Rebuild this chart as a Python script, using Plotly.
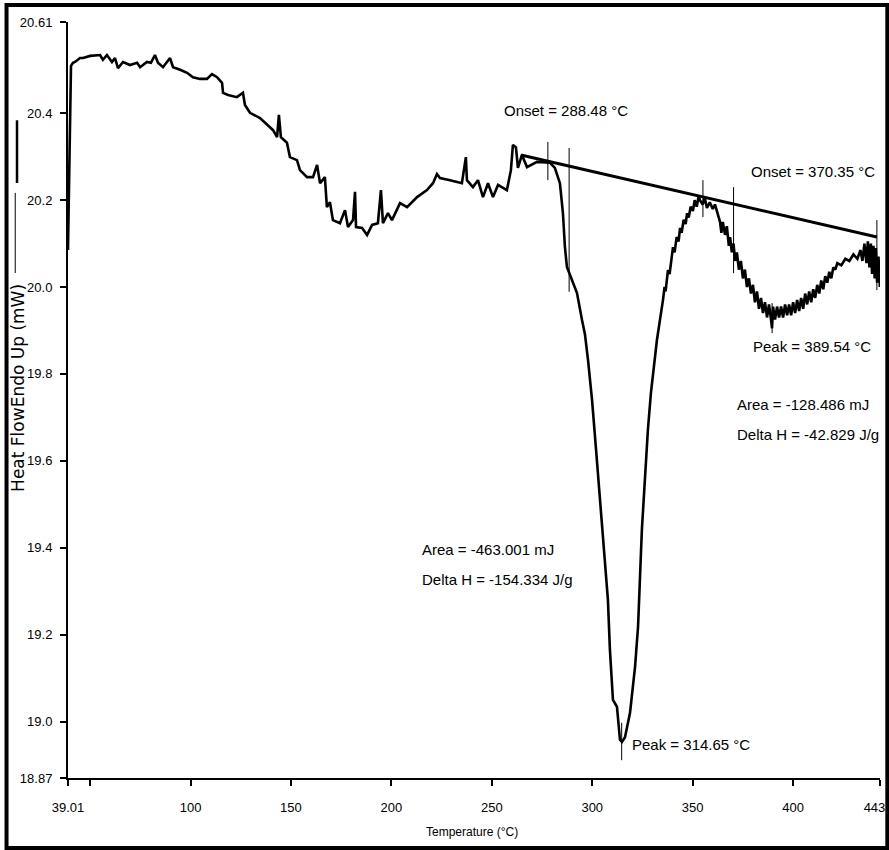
import plotly.graph_objects as go

# ---- DSC curve (temperature in °C, heat flow in mW) ----
temperature = [
    39.0, 39.5, 40.0, 40.5, 41.5, 42.5, 45.0, 46.5, 50.0, 55.0, 56.4, 58.4, 60.9, 62.4, 63.9,
    66.4, 69.9, 73.4, 74.9, 78.3, 80.3, 82.3, 83.8, 86.3, 89.8, 91.3, 94.8, 98.3, 101.2, 104.7,
    108.2, 110.7, 113.2, 115.7, 116.2, 118.7, 123.1, 126.1, 127.1, 129.6, 134.6, 138.1, 141.1,
    143.1, 144.0, 145.0, 148.0, 149.5, 153.0, 154.5, 158.0, 161.0, 163.0, 164.5, 166.9, 167.9,
    169.4, 170.9, 172.9, 174.4, 176.9, 178.4, 180.9, 181.9, 182.4, 185.4, 187.9, 190.4, 193.3,
    194.8, 195.8, 198.3, 200.3, 204.3, 207.8, 212.8, 217.7, 220.7, 222.7, 224.2, 229.2, 235.1,
    237.1, 237.6, 240.6, 243.1, 245.6, 248.1, 250.6, 253.1, 257.5, 259.5, 260.5, 262.0, 263.0,
    265.0, 267.5, 272.5, 279.0, 281.4, 283.9, 285.4, 286.4, 287.4, 289.9, 292.4, 294.9, 296.4,
    297.9, 299.9, 301.9, 303.8, 305.8, 307.8, 308.8, 310.3, 312.3, 313.8, 314.8, 316.3, 318.8,
    321.3, 322.8, 323.8, 324.7, 326.2, 327.7, 329.2, 332.2, 335.2, 336.0, 336.5, 337.7, 338.5,
    340.2, 341.0, 342.0, 343.0, 343.7, 344.5, 345.5, 346.5, 347.2, 348.0, 349.0, 350.1, 351.0,
    352.0, 353.0, 353.6, 355.0, 356.0, 357.1, 358.5, 360.0, 361.1, 362.5, 363.6, 364.3, 365.0,
    366.1, 367.0, 368.0, 368.6, 369.5, 370.3, 371.2, 372.0, 373.0, 374.0, 375.0, 376.0, 377.0,
    378.0, 379.0, 380.0, 381.0, 382.0, 383.0, 384.0, 385.0, 386.0, 387.0, 388.0, 389.0, 389.5,
    390.0, 391.0, 392.0, 393.0, 394.0, 395.0, 396.0, 397.0, 398.0, 399.0, 400.0, 401.0, 402.0,
    403.0, 404.0, 405.0, 406.0, 407.0, 408.0, 409.0, 410.0, 411.0, 412.0, 413.0, 414.0, 415.0,
    416.0, 417.0, 418.0, 419.0, 420.0, 421.0, 422.0, 424.0, 426.0, 428.0, 430.0, 432.0, 433.5,
    434.5, 435.5, 436.5, 437.2, 438.0, 438.7, 439.3, 440.0, 440.6, 441.2, 441.8, 442.5, 443.2,
]
heat_flow = [
    20.085, 20.200, 20.361, 20.509, 20.516, 20.518, 20.527, 20.527, 20.532, 20.534, 20.523, 20.534, 20.518, 20.527, 20.504,
    20.518, 20.511, 20.516, 20.506, 20.518, 20.516, 20.534, 20.516, 20.506, 20.527, 20.506, 20.500, 20.493, 20.483, 20.479,
    20.479, 20.490, 20.483, 20.470, 20.447, 20.442, 20.437, 20.447, 20.419, 20.401, 20.389, 20.373, 20.361,
    20.345, 20.396, 20.345, 20.332, 20.299, 20.292, 20.269, 20.253, 20.253, 20.281, 20.239, 20.253, 20.184,
    20.195, 20.154, 20.150, 20.147, 20.177, 20.138, 20.154, 20.219, 20.138, 20.136, 20.120, 20.143, 20.147,
    20.223, 20.147, 20.170, 20.154, 20.193, 20.184, 20.207, 20.223, 20.239, 20.260, 20.251, 20.246, 20.239,
    20.299, 20.246, 20.230, 20.246, 20.207, 20.239, 20.207, 20.235, 20.223, 20.269, 20.327, 20.322, 20.274,
    20.304, 20.276, 20.288, 20.286, 20.274, 20.239, 20.170, 20.092, 20.046, 20.016, 19.986, 19.924, 19.890,
    19.832, 19.740, 19.625, 19.510, 19.395, 19.280, 19.165, 19.050, 19.034, 18.958, 18.953, 18.964, 19.020,
    19.126, 19.218, 19.326, 19.441, 19.556, 19.671, 19.756, 19.878, 19.970, 20.000, 19.990, 20.039, 20.030,
    20.092, 20.080, 20.115, 20.105, 20.136, 20.125, 20.155, 20.145, 20.170, 20.160, 20.185, 20.175, 20.200,
    20.185, 20.210, 20.200, 20.190, 20.205, 20.182, 20.195, 20.180, 20.190, 20.165, 20.150, 20.125, 20.150,
    20.120, 20.140, 20.095, 20.115, 20.080, 20.100, 20.060, 20.080, 20.040, 20.060, 20.020, 20.040, 20.000,
    20.020, 19.985, 20.005, 19.965, 19.990, 19.950, 19.975, 19.940, 19.965, 19.930, 19.960, 19.925, 19.905,
    19.955, 19.925, 19.955, 19.930, 19.955, 19.930, 19.960, 19.935, 19.960, 19.935, 19.965, 19.940, 19.970,
    19.945, 19.975, 19.950, 19.985, 19.960, 19.990, 19.965, 19.995, 19.975, 20.005, 19.985, 20.015, 19.995,
    20.025, 20.010, 20.035, 20.020, 20.045, 20.040, 20.055, 20.050, 20.065, 20.060, 20.075, 20.065, 20.085,
    20.060, 20.100, 20.055, 20.105, 20.045, 20.100, 20.030, 20.095, 20.020, 20.090, 20.010, 20.070, 20.000,
]

# ---- integration baseline ----
baseline_temp = [264.5, 441.7]
baseline_flow = [20.304, 20.115]

# ---- vertical marker lines (temperature, low, high) ----
marker_temp = [277.9, 288.48, 355.1, 370.35, 441.7, 314.65, 389.54]
marker_low = [20.246, 19.989, 20.161, 20.032, 19.993, 18.911, 19.894]
marker_high = [20.334, 20.320, 20.246, 20.230, 20.154, 18.997, 19.963]

# ---- axis ticks ----
x_tickvals = [39.01, 50, 100, 150, 200, 250, 300, 350, 400, 443.2]
x_ticktext = ["39.01", "", "100", "150", "200", "250", "300", "350", "400", "443.1"]
y_tickvals = [18.87, 19.0, 19.2, 19.4, 19.6, 19.8, 20.0, 20.2, 20.4, 20.61]
y_ticktext = ["18.87", "19.0", "19.2", "19.4", "19.6", "19.8", "20.0", "20.2", "20.4", "20.61"]

# ---- text labels (text, temperature, heat flow, anchor) ----
labels = [
    ("Onset = 288.48 °C", 286.9, 20.407, "center"),
    ("Onset = 370.35 °C", 409.9, 20.267, "center"),
    ("Peak = 389.54 °C", 409.4, 19.864, "center"),
    ("Area = -128.486 mJ", 371.0, 19.729, "left"),
    ("Delta H = -42.829 J/g", 371.0, 19.660, "left"),
    ("Area = -463.001 mJ", 214.2, 19.397, "left"),
    ("Delta H = -154.334 J/g", 214.2, 19.328, "left"),
    ("Peak = 314.65 °C", 318.8, 18.946, "left"),
]

FONT = "Liberation Sans, Arial, sans-serif"

fig = go.Figure()
fig.add_trace(go.Scatter(x=temperature, y=heat_flow, mode="lines",
                         line=dict(color="black", width=2.6), hoverinfo="skip"))
fig.add_trace(go.Scatter(x=baseline_temp, y=baseline_flow, mode="lines",
                         line=dict(color="black", width=3), hoverinfo="skip"))
mx, my = [], []
for t, lo, hi in zip(marker_temp, marker_low, marker_high):
    mx += [t, t, None]
    my += [lo, hi, None]
fig.add_trace(go.Scatter(x=mx, y=my, mode="lines",
                         line=dict(color="black", width=1), hoverinfo="skip"))

for text, t, hf, anchor in labels:
    fig.add_annotation(x=t, y=hf, text=text, showarrow=False, xanchor=anchor,
                       yanchor="middle", font=dict(family=FONT, size=15, color="black"))

# axis titles
fig.add_annotation(xref="paper", yref="paper", x=0.4975, y=-0.0714, text="Temperature (°C)",
                   showarrow=False, xanchor="center", yanchor="middle",
                   font=dict(family=FONT, size=12, color="black"))
fig.add_annotation(xref="paper", yref="paper", x=-0.0616, y=0.516, text="Heat FlowEndo Up (mW)",
                   showarrow=False, textangle=-90, xanchor="center", yanchor="middle",
                   font=dict(family="DejaVu Sans", size=17, color="black"))

# legend-like line marks beside the y title
fig.add_shape(type="line", xref="paper", yref="paper", x0=-0.0628, x1=-0.0628, y0=0.787, y1=0.870,
              line=dict(color="black", width=2.5))
fig.add_shape(type="line", xref="paper", yref="paper", x0=-0.0650, x1=-0.0650, y0=0.668, y1=0.774,
              line=dict(color="black", width=1))
# outer frame
fig.add_shape(type="rect", xref="paper", yref="paper", x0=-0.0757, x1=1.0090, y0=-0.0926, y1=1.0225,
              line=dict(color="black", width=4), layer="above")

fig.update_layout(
    width=889, height=850,
    margin=dict(l=68, r=9, t=22, b=72, autoexpand=False),
    paper_bgcolor="white", plot_bgcolor="white",
    showlegend=False,
    xaxis=dict(range=[39.01, 443.25], tickvals=x_tickvals, ticktext=x_ticktext,
               automargin=False,
               showgrid=False, zeroline=False, showline=True, linecolor="black", linewidth=2,
               ticks="outside", ticklen=6, tickwidth=1.5, tickcolor="black",
               ticklabelstandoff=10, ticklabeloverflow="allow",
               tickfont=dict(family=FONT, size=13, color="black")),
    yaxis=dict(range=[18.87, 20.61], tickvals=y_tickvals, ticktext=y_ticktext,
               automargin=False,
               showgrid=False, zeroline=False, showline=True, linecolor="black", linewidth=2,
               ticks="outside", ticklen=6, tickwidth=1.5, tickcolor="black",
               ticklabelstandoff=5, ticklabeloverflow="allow",
               tickfont=dict(family=FONT, size=13, color="black")),
)

fig.write_html("out.html")
